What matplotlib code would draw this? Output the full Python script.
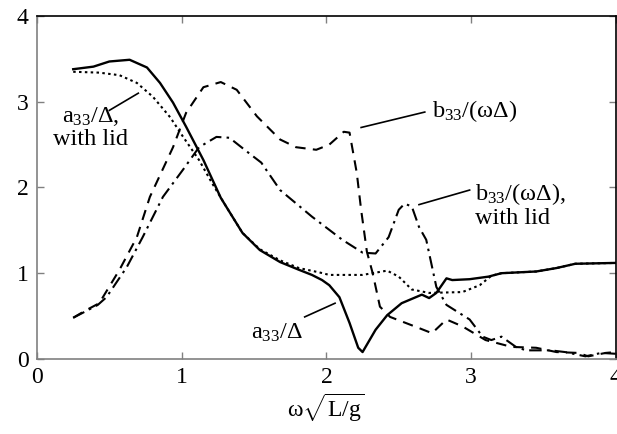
import matplotlib
matplotlib.use("Agg")
import matplotlib.pyplot as plt

plt.rcParams['font.family'] = ['Liberation Serif', 'DejaVu Serif']
plt.rcParams['mathtext.fontset'] = 'custom'
plt.rcParams['mathtext.rm'] = 'Liberation Serif'
plt.rcParams['mathtext.it'] = 'Liberation Serif:italic'

# a33/Delta (no lid) - solid
a_x = [0.25, 0.39, 0.50, 0.64, 0.76, 0.85, 0.94, 1.03, 1.15, 1.27, 1.31, 1.42, 1.54, 1.68, 1.81, 1.90, 1.97, 2.02, 2.09, 2.16, 2.22, 2.25, 2.34, 2.42, 2.52, 2.66, 2.71, 2.76, 2.83, 2.87, 2.99, 3.12, 3.21, 3.45, 3.59, 3.72, 4.00]
a_y = [3.38, 3.41, 3.47, 3.49, 3.40, 3.22, 2.99, 2.71, 2.32, 1.88, 1.77, 1.47, 1.27, 1.13, 1.04, 0.98, 0.92, 0.86, 0.72, 0.42, 0.13, 0.08, 0.34, 0.51, 0.65, 0.75, 0.71, 0.77, 0.94, 0.92, 0.93, 0.96, 1.00, 1.02, 1.06, 1.11, 1.12]

# a33/Delta with lid - dotted
al_x = [0.25, 0.43, 0.57, 0.69, 0.80, 0.92, 1.01, 1.12, 1.21, 1.31, 1.42, 1.54, 1.68, 1.81, 1.95, 2.02, 2.25, 2.42, 2.50, 2.59, 2.71, 2.94, 3.06, 3.14, 3.21, 3.45, 3.59, 3.72, 4.00]
al_y = [3.35, 3.34, 3.31, 3.22, 3.06, 2.82, 2.59, 2.32, 2.05, 1.77, 1.47, 1.28, 1.15, 1.06, 1.01, 0.98, 0.98, 1.03, 0.96, 0.81, 0.77, 0.78, 0.86, 0.97, 1.00, 1.02, 1.06, 1.11, 1.12]

# b33/(omega Delta) (no lid) - dashed
b_x = [0.25, 0.33, 0.43, 0.57, 0.69, 0.78, 0.94, 1.03, 1.15, 1.27, 1.38, 1.52, 1.68, 1.79, 1.93, 2.02, 2.12, 2.16, 2.21, 2.24, 2.28, 2.32, 2.37, 2.44, 2.64, 2.73, 2.83, 2.94, 3.10, 3.28, 3.45, 3.59, 3.74, 3.81, 3.93, 4.00]
b_y = [0.48, 0.56, 0.65, 1.04, 1.42, 1.89, 2.47, 2.87, 3.17, 3.23, 3.14, 2.83, 2.56, 2.47, 2.44, 2.50, 2.65, 2.64, 2.17, 1.74, 1.25, 1.00, 0.61, 0.49, 0.36, 0.30, 0.46, 0.38, 0.22, 0.14, 0.13, 0.08, 0.07, 0.03, 0.07, 0.08]

# b33/(omega Delta) with lid - dash-dot
bl_x = [0.25, 0.33, 0.42, 0.48, 0.62, 0.73, 0.87, 1.01, 1.12, 1.24, 1.33, 1.45, 1.55, 1.68, 1.90, 2.11, 2.25, 2.34, 2.43, 2.50, 2.54, 2.59, 2.64, 2.69, 2.76, 2.83, 2.99, 3.08, 3.14, 3.21, 3.31, 3.38, 3.55, 3.65, 3.79, 3.90, 4.00]
bl_y = [0.48, 0.55, 0.63, 0.72, 1.07, 1.42, 1.89, 2.21, 2.47, 2.59, 2.58, 2.42, 2.29, 1.97, 1.66, 1.39, 1.24, 1.23, 1.42, 1.74, 1.81, 1.78, 1.54, 1.39, 0.84, 0.63, 0.46, 0.26, 0.22, 0.26, 0.14, 0.10, 0.10, 0.08, 0.03, 0.07, 0.06]

xticks = [0, 1, 2, 3, 4]
yticks = [0, 1, 2, 3, 4]

fig = plt.figure(figsize=(6.17, 4.34), dpi=100)
ax = fig.add_axes([0.060, 0.173, 0.938, 0.790])

ax.plot(a_x, a_y, color='black', lw=1.7, ls='-')
ax.plot(al_x, al_y, color='black', lw=1.5, ls=(0, (1.2, 1.6)))
ax.plot(b_x, b_y, color='black', lw=1.5, ls=(0, (5, 3.5)))
ax.plot(bl_x, bl_y, color='black', lw=1.5, ls=(0, (6, 2.5, 1.2, 2.5)))

ax.set_xlim(0, 4)
ax.set_ylim(0, 4)
ax.set_xticks(xticks)
ax.set_yticks(yticks)
ax.set_xticklabels([str(t) for t in xticks])
ax.set_yticklabels([str(t) for t in yticks])
ax.tick_params(direction='in', length=5, width=1, colors='#808080', labelcolor='black',
               labelsize=17, top=True, right=True, pad=6)
for s in ['left', 'bottom']:
    ax.spines[s].set_color('#808080')
    ax.spines[s].set_linewidth(1.2)
for s in ['top', 'right']:
    ax.spines[s].set_color('black')
    ax.spines[s].set_linewidth(1.2)

ax.set_xlabel(r'$\mathrm{\omega}\sqrt{\mathrm{L/g}}$', fontsize=17, labelpad=2)

fs = 17.5
# leader lines
ax.plot([0.50, 0.70], [2.90, 3.10], color='black', lw=1.2)
ax.plot([2.24, 2.68], [2.70, 2.88], color='black', lw=1.2)
ax.plot([2.64, 2.99], [1.80, 1.97], color='black', lw=1.2)
ax.plot([1.85, 2.06], [0.49, 0.65], color='black', lw=1.2)

ax.text(0.37, 2.70, r'a$_{33}$/$\Delta$,' + '\nwith lid', fontsize=fs, ha='center', va='center', linespacing=1.05)
ax.text(2.73, 2.89, r'b$_{33}$/(ω$\Delta$)', fontsize=fs, ha='left', va='center')
ax.text(3.03, 2.07, r'b$_{33}$/(ω$\Delta$),' + '\nwith lid', fontsize=fs, ha='left', va='top', linespacing=1.05)
ax.text(1.66, 0.30, r'a$_{33}$/$\Delta$', fontsize=fs, ha='center', va='center')

fig.savefig('out.png', dpi=100)
